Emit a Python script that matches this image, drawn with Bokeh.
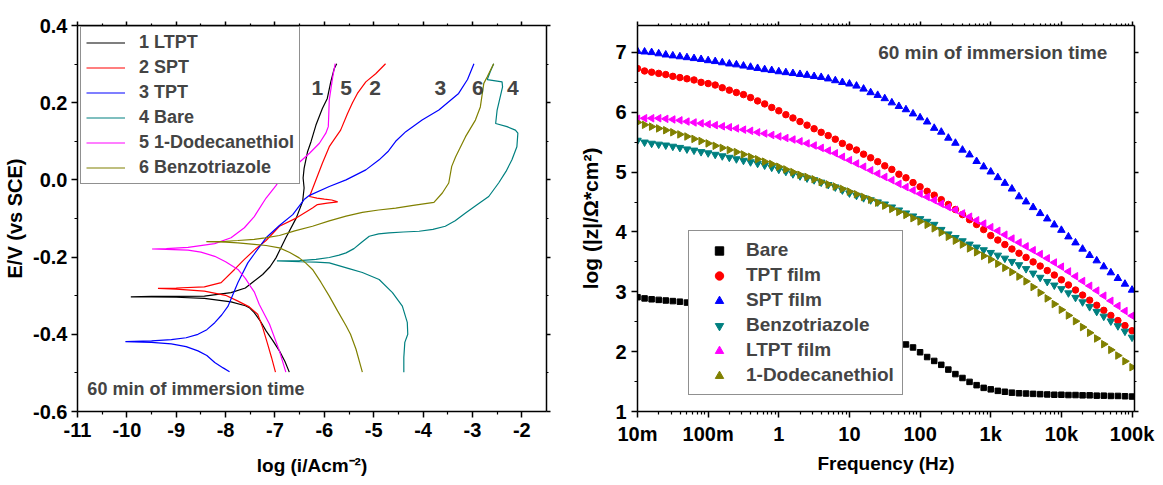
import numpy as np
from bokeh.plotting import figure
from bokeh.layouts import row
from bokeh.models import (Range1d, FixedTicker, LinearAxis, LogAxis, Legend, LegendItem,
                          Label, CustomJSTickFormatter)
from bokeh.embed import file_html
from bokeh.resources import INLINE

FONT = "Liberation Sans"

# ---------------- Left panel: polarization curves (log i, E) ----------------
ltpt_x = [-6.71, -6.80, -6.91, -7.05, -7.18, -7.30, -7.42, -7.52, -7.60, -7.89, -8.43, -9.0, -9.5, -9.92,
          -9.5, -9.0, -8.43, -7.89, -7.6, -7.42, -7.25, -7.1, -6.98, -6.78, -6.57, -6.44, -6.41, -6.43,
          -6.41, -6.34, -6.27, -6.17, -6.04, -5.94, -5.87, -5.80, -5.75]
ltpt_y = [-0.498, -0.47, -0.443, -0.415, -0.391, -0.365, -0.344, -0.331, -0.326, -0.316, -0.307, -0.304, -0.303, -0.303,
          -0.302, -0.302, -0.301, -0.292, -0.28, -0.262, -0.245, -0.225, -0.202, -0.150, -0.099, -0.056, -0.021, 0.005,
          0.03, 0.073, 0.099, 0.142, 0.185, 0.211, 0.254, 0.288, 0.301]

spt_x = [-6.99, -7.07, -7.15, -7.25, -7.35, -7.52, -7.75, -8.0, -8.43, -9.0, -9.37,
         -9.0, -8.43, -8.09, -7.82, -7.62, -7.42, -7.18, -6.91, -6.57, -6.24, -6.14, -5.94, -5.73,
         -5.85, -6.0, -6.15, -6.30, -6.2, -6.04, -5.90, -5.80, -5.67, -5.53, -5.43, -5.33, -5.16, -4.96, -4.76]
spt_y = [-0.498, -0.46, -0.425, -0.382, -0.348, -0.329, -0.314, -0.299, -0.288, -0.283, -0.281,
         -0.280, -0.277, -0.266, -0.232, -0.206, -0.182, -0.157, -0.12, -0.099, -0.073, -0.064, -0.060, -0.057,
         -0.052, -0.050, -0.047, -0.043, -0.01, 0.043, 0.086, 0.105, 0.129, 0.172, 0.2, 0.224, 0.254, 0.275, 0.301]

tpt_x = [-7.92, -8.05, -8.22, -8.38, -8.56, -8.8, -9.1, -9.5, -10.03,
         -9.5, -9.1, -8.8, -8.56, -8.38, -8.22, -8.08, -7.95, -7.85, -7.75, -7.55, -7.42, -7.18, -6.91,
         -6.64, -6.41, -6.30, -5.90, -5.56, -5.16, -4.89, -4.70, -4.555, -4.35, -4.02, -3.68, -3.28, -3.10, -2.97]
tpt_y = [-0.497, -0.487, -0.473, -0.455, -0.443, -0.432, -0.425, -0.421, -0.419,
         -0.417, -0.414, -0.409, -0.400, -0.388, -0.370, -0.35, -0.327, -0.296, -0.266, -0.215, -0.192, -0.150, -0.118,
         -0.09, -0.051, -0.040, -0.017, 0.0, 0.026, 0.052, 0.075, 0.100, 0.125, 0.155, 0.181, 0.224, 0.26, 0.301]

bare_x = [-4.39, -4.39, -4.37, -4.31, -4.32, -4.42, -4.62, -4.89, -5.23, -5.5, -5.90, -6.17, -6.5, -6.96,
          -6.5, -6.17, -5.9, -5.7, -5.56, -5.4, -5.25, -5.09, -4.9, -4.69, -4.4, -4.08, -3.8, -3.55, -3.35,
          -3.14, -2.9, -2.67, -2.47, -2.32, -2.2, -2.10, -2.08, -2.13, -2.30, -2.53, -2.50, -2.39, -2.40,
          -2.70, -2.64, -2.57]
bare_y = [-0.498, -0.46, -0.421, -0.40, -0.369, -0.327, -0.292, -0.258, -0.240, -0.230, -0.215, -0.213, -0.212, -0.210,
          -0.209, -0.206, -0.201, -0.195, -0.189, -0.178, -0.162, -0.146, -0.140, -0.137, -0.135, -0.133, -0.128, -0.120,
          -0.106, -0.086, -0.064, -0.043, -0.008, 0.022, 0.052, 0.086, 0.121, 0.129, 0.138, 0.146, 0.181, 0.241, 0.254,
          0.260, 0.280, 0.301]

dodec_x = [-6.78, -6.91, -7.11, -7.32, -7.42, -7.5, -7.6, -7.75, -8.0, -8.22, -8.5, -8.76, -9.2, -9.49,
           -9.2, -8.76, -8.22, -7.89, -7.62, -7.42, -7.18, -6.98, -6.84, -6.51, -6.3, -6.1, -5.97, -5.92,
           -5.91, -5.90, -5.83, -5.78]
dodec_y = [-0.498, -0.443, -0.374, -0.322, -0.290, -0.275, -0.255, -0.232, -0.212, -0.198, -0.187, -0.182, -0.180, -0.179,
           -0.178, -0.175, -0.165, -0.150, -0.124, -0.095, -0.047, -0.015, 0.013, 0.045, 0.069, 0.095, 0.121, 0.138,
           0.17, 0.207, 0.267, 0.301]

btz_x = [-5.23, -5.36, -5.47, -5.56, -5.73, -5.90, -6.07, -6.24, -6.38, -6.51, -6.7, -6.91, -7.18, -7.42, -7.75, -8.0, -8.39,
         -8.0, -7.75, -7.42, -7.2, -6.91, -6.6, -6.24, -5.9, -5.56, -5.23, -4.9, -4.555, -4.2, -3.78, -3.61,
         -3.48, -3.42, -3.34, -3.14, -2.94, -2.84, -2.80, -2.77, -2.70, -2.57]
btz_y = [-0.498, -0.438, -0.40, -0.378, -0.34, -0.301, -0.265, -0.232, -0.215, -0.202, -0.188, -0.176, -0.170, -0.167, -0.163, -0.161, -0.160,
         -0.159, -0.157, -0.154, -0.150, -0.144, -0.132, -0.120, -0.106, -0.094, -0.084, -0.078, -0.073, -0.066, -0.058, -0.034,
         -0.008, 0.035, 0.060, 0.112, 0.155, 0.189, 0.224, 0.250, 0.267, 0.301]

curve_labels = ["1 LTPT", "2 SPT", "3 TPT", "4 Bare", "5 1-Dodecanethiol", "6 Benzotriazole"]
curve_colors = ["black", "#FF0000", "#0000FF", "#008080", "#FF00FF", "#808000"]

num_text = ["1", "5", "2", "3", "6", "4"]
num_x = [-6.14, -5.56, -4.97, -3.65, -2.89, -2.18]
num_y = 0.237

# ---------------- Right panel: Bode |Z| ----------------
log_freq = [-2.0, -1.9, -1.8, -1.7, -1.6, -1.5, -1.4, -1.3, -1.2, -1.1,
            -1.0, -0.9, -0.8, -0.7, -0.6, -0.5, -0.4, -0.3, -0.2, -0.1,
            0.0, 0.1, 0.2, 0.3, 0.4, 0.5, 0.6, 0.7, 0.8, 0.9,
            1.0, 1.1, 1.2, 1.3, 1.4, 1.5, 1.6, 1.7, 1.8, 1.9,
            2.0, 2.1, 2.2, 2.3, 2.4, 2.5, 2.6, 2.7, 2.8, 2.9,
            3.0, 3.1, 3.2, 3.3, 3.4, 3.5, 3.6, 3.7, 3.8, 3.9,
            4.0, 4.1, 4.2, 4.3, 4.4, 4.5, 4.6, 4.7, 4.8, 4.9, 5.0]

z_bare = [2.91, 2.89, 2.875, 2.865, 2.855, 2.845, 2.835, 2.82, 2.81, 2.795,
          2.78, 2.765, 2.75, 2.735, 2.72, 2.70, 2.685, 2.665, 2.645, 2.625,
          2.60, 2.58, 2.56, 2.54, 2.52, 2.495, 2.47, 2.445, 2.415, 2.39,
          2.36, 2.33, 2.30, 2.27, 2.24, 2.21, 2.18, 2.15, 2.12, 2.07,
          1.99, 1.91, 1.845, 1.78, 1.70, 1.625, 1.56, 1.495, 1.44, 1.395,
          1.37, 1.345, 1.33, 1.315, 1.305, 1.30, 1.295, 1.29, 1.285, 1.28,
          1.28, 1.275, 1.275, 1.27, 1.27, 1.265, 1.265, 1.26, 1.26, 1.255, 1.25]

z_tpt = [6.73, 6.69, 6.67, 6.65, 6.63, 6.60, 6.58, 6.56, 6.54, 6.50,
         6.48, 6.455, 6.41, 6.37, 6.33, 6.295, 6.245, 6.19, 6.14, 6.08,
         6.025, 5.96, 5.905, 5.845, 5.785, 5.725, 5.665, 5.61, 5.55, 5.48,
         5.42, 5.37, 5.30, 5.24, 5.175, 5.105, 5.045, 4.965, 4.905, 4.825,
         4.755, 4.68, 4.615, 4.54, 4.46, 4.375, 4.29, 4.205, 4.125, 4.04,
         3.94, 3.865, 3.79, 3.715, 3.645, 3.575, 3.50, 3.43, 3.355, 3.28,
         3.20, 3.115, 3.03, 2.945, 2.86, 2.775, 2.69, 2.605, 2.52, 2.435, 2.35]

z_spt = [7.02, 7.01, 7.00, 6.98, 6.96, 6.945, 6.93, 6.915, 6.90, 6.885,
         6.865, 6.85, 6.83, 6.81, 6.795, 6.775, 6.755, 6.735, 6.715, 6.70,
         6.68, 6.665, 6.65, 6.635, 6.62, 6.60, 6.585, 6.56, 6.53, 6.50,
         6.475, 6.44, 6.39, 6.33, 6.285, 6.23, 6.16, 6.10, 6.045, 5.975,
         5.91, 5.84, 5.735, 5.67, 5.57, 5.485, 5.37, 5.29, 5.18, 5.09,
         5.005, 4.91, 4.815, 4.72, 4.59, 4.505, 4.41, 4.31, 4.22, 4.12,
         4.03, 3.92, 3.82, 3.715, 3.61, 3.52, 3.42, 3.32, 3.225, 3.13, 3.03]

z_btz = [5.53, 5.50, 5.48, 5.465, 5.45, 5.43, 5.41, 5.385, 5.365, 5.34,
         5.32, 5.295, 5.27, 5.245, 5.22, 5.195, 5.17, 5.145, 5.115, 5.08,
         5.045, 5.01, 4.97, 4.935, 4.90, 4.87, 4.83, 4.79, 4.75, 4.70,
         4.65, 4.61, 4.57, 4.535, 4.50, 4.465, 4.415, 4.365, 4.315, 4.265,
         4.22, 4.175, 4.125, 4.04, 3.965, 3.905, 3.85, 3.795, 3.745, 3.70,
         3.655, 3.61, 3.56, 3.505, 3.45, 3.385, 3.31, 3.24, 3.17, 3.11,
         3.05, 2.98, 2.905, 2.83, 2.75, 2.67, 2.59, 2.51, 2.43, 2.34, 2.24]

z_ltpt = [5.89, 5.90, 5.90, 5.90, 5.89, 5.88, 5.865, 5.845, 5.83, 5.815,
          5.80, 5.785, 5.765, 5.75, 5.73, 5.71, 5.69, 5.665, 5.645, 5.62,
          5.595, 5.57, 5.545, 5.515, 5.48, 5.445, 5.405, 5.36, 5.315, 5.255,
          5.20, 5.145, 5.09, 5.03, 4.975, 4.92, 4.865, 4.805, 4.75, 4.695,
          4.64, 4.585, 4.53, 4.47, 4.415, 4.37, 4.31, 4.255, 4.195, 4.14,
          4.08, 4.02, 3.955, 3.89, 3.825, 3.76, 3.695, 3.63, 3.56, 3.49,
          3.42, 3.34, 3.26, 3.18, 3.10, 3.02, 2.935, 2.85, 2.765, 2.68, 2.60]

z_dodec = [5.83, 5.79, 5.76, 5.73, 5.70, 5.665, 5.63, 5.595, 5.555, 5.52,
           5.48, 5.44, 5.405, 5.37, 5.335, 5.295, 5.255, 5.215, 5.175, 5.135,
           5.09, 5.045, 5.00, 4.955, 4.92, 4.88, 4.835, 4.795, 4.76, 4.72,
           4.675, 4.63, 4.585, 4.54, 4.49, 4.44, 4.385, 4.335, 4.285, 4.23,
           4.175, 4.12, 4.06, 3.99, 3.92, 3.855, 3.79, 3.725, 3.66, 3.60,
           3.54, 3.47, 3.40, 3.33, 3.255, 3.175, 3.08, 2.985, 2.89, 2.795,
           2.70, 2.605, 2.51, 2.41, 2.315, 2.22, 2.125, 2.03, 1.935, 1.84, 1.74]

bode_labels = ["Bare", "TPT film", "SPT film", "Benzotriazole", "LTPT film", "1-Dodecanethiol"]
bode_colors = ["black", "#FF0000", "#0000FF", "#008080", "#FF00FF", "#808000"]

freq = [10 ** v for v in log_freq]


def style_axis(ax, show_labels=True, tick_len=6, minor_len=3):
    ax.axis_line_width = 1.5
    ax.axis_line_color = "black"
    ax.major_tick_line_width = 1.5
    ax.minor_tick_line_width = 1.2
    ax.major_tick_line_color = "black"
    ax.minor_tick_line_color = "black"
    ax.major_tick_out = tick_len
    ax.major_tick_in = 0
    ax.minor_tick_out = minor_len
    ax.minor_tick_in = 0
    ax.major_label_text_font = FONT
    ax.major_label_text_font_style = "bold"
    ax.major_label_text_font_size = "20px"
    ax.major_label_text_color = "black" if show_labels else None
    if not show_labels:
        ax.major_label_text_font_size = "1px"
        ax.major_label_standoff = 0
    ax.axis_label_text_font = FONT
    ax.axis_label_text_font_style = "bold"
    ax.axis_label_text_font_size = "19px"
    ax.axis_label_text_color = "black"


# ================= Left figure =================
p1 = figure(width=574, height=482, x_range=Range1d(-11, -1.5), y_range=Range1d(-0.6, 0.4),
            output_backend="svg", toolbar_location=None,
            min_border_left=77, min_border_right=28, min_border_top=25, min_border_bottom=69,
            x_axis_label="log (i/Acm\u207b\u00b2)", y_axis_label="E/V (vs SCE)")
p1.xgrid.visible = False
p1.ygrid.visible = False
p1.outline_line_color = None

xt1 = FixedTicker(ticks=[-11, -10, -9, -8, -7, -6, -5, -4, -3, -2],
                  minor_ticks=[-10.5, -9.5, -8.5, -7.5, -6.5, -5.5, -4.5, -3.5, -2.5])
yt1 = FixedTicker(ticks=[-0.6, -0.4, -0.2, 0.0, 0.2, 0.4],
                  minor_ticks=[-0.5, -0.3, -0.1, 0.1, 0.3])
p1.xaxis.ticker = xt1
p1.yaxis.ticker = yt1
p1.xaxis.formatter = CustomJSTickFormatter(code="return tick.toFixed(0);")
p1.yaxis.formatter = CustomJSTickFormatter(code="return (Math.abs(tick) < 1e-9 ? 0 : tick).toFixed(1);")
style_axis(p1.xaxis[0])
style_axis(p1.yaxis[0])
p1.xaxis.major_label_standoff = 5
p1.xaxis.axis_label_standoff = 15
p1.yaxis.major_label_standoff = 4
p1.yaxis.axis_label_standoff = 4
p1.yaxis.axis_label_text_font_size = "20px"

top1 = LinearAxis(ticker=xt1)
style_axis(top1, show_labels=False, tick_len=4, minor_len=2)
p1.add_layout(top1, "above")
right1 = LinearAxis(ticker=yt1)
style_axis(right1, show_labels=False, tick_len=4, minor_len=2)
p1.add_layout(right1, "right")

curves = [(ltpt_x, ltpt_y), (spt_x, spt_y), (tpt_x, tpt_y), (bare_x, bare_y), (dodec_x, dodec_y), (btz_x, btz_y)]
items1 = []
for (cx, cy), lab, col in zip(curves, curve_labels, curve_colors):
    r = p1.line(cx, cy, line_color=col, line_width=1.2)
    items1.append(LegendItem(label=lab, renderers=[r]))

leg1 = Legend(items=items1, location=(3, 227), margin=0, padding=5, spacing=4,
              glyph_width=39, glyph_height=21, label_height=21, label_standoff=14,
              label_text_font=FONT, label_text_font_style="bold", label_text_font_size="18px",
              border_line_color="#222222", border_line_width=1, background_fill_color="white",
              background_fill_alpha=1.0)
p1.add_layout(leg1)

for t, x in zip(num_text, num_x):
    p1.add_layout(Label(x=x, y=num_y, text=t, text_font=FONT, text_font_style="bold",
                        text_font_size="21px", text_align="center", text_baseline="middle"))

p1.add_layout(Label(x=-10.80, y=-0.541, text="60 min of immersion time", text_font=FONT,
                    text_font_style="bold", text_font_size="18px", text_align="left",
                    text_baseline="middle"))

# ================= Right figure =================
p2 = figure(width=585, height=482, x_axis_type="log", x_range=Range1d(0.01, 10 ** 5.035),
            y_range=Range1d(1, 7.45), output_backend="svg", toolbar_location=None,
            min_border_left=63, min_border_right=25, min_border_top=25, min_border_bottom=71,
            x_axis_label="Frequency (Hz)", y_axis_label="log (|z|/\u03a9*cm\u00b2)")
p2.xgrid.visible = False
p2.ygrid.visible = False
p2.outline_line_color = None

decades = [0.01, 0.1, 1, 10, 100, 1000, 10000, 100000]
minor_log = [m * d for d in decades[:-1] for m in range(2, 10)]
xt2 = FixedTicker(ticks=decades, minor_ticks=minor_log)
yt2 = FixedTicker(ticks=[1, 2, 3, 4, 5, 6, 7], minor_ticks=[1.5, 2.5, 3.5, 4.5, 5.5, 6.5])
p2.xaxis.ticker = xt2
p2.yaxis.ticker = yt2
p2.xaxis.formatter = CustomJSTickFormatter(code="""
const m = {"-2": "10m", "-1": "100m", "0": "1", "1": "10", "2": "100", "3": "1k", "4": "10k", "5": "100k"};
const k = String(Math.round(Math.log10(tick)));
return (k in m) ? m[k] : "";
""")
p2.yaxis.formatter = CustomJSTickFormatter(code="return tick.toFixed(0);")
style_axis(p2.xaxis[0])
style_axis(p2.yaxis[0])
p2.xaxis.major_label_standoff = 5
p2.xaxis.axis_label_standoff = 5
p2.yaxis.major_label_standoff = 5
p2.yaxis.axis_label_standoff = 10
p2.yaxis.axis_label_text_font_size = "21px"

top2 = LogAxis(ticker=xt2)
style_axis(top2, show_labels=False, tick_len=4, minor_len=2)
p2.add_layout(top2, "above")
right2 = LinearAxis(ticker=yt2)
style_axis(right2, show_labels=False, tick_len=4, minor_len=2)
p2.add_layout(right2, "right")

series = [z_bare, z_tpt, z_spt, z_btz, z_ltpt, z_dodec]
markers = [("square", 0.0, 5.5), ("circle", 0.0, 6.5), ("triangle", 0.0, 7.5),
           ("inverted_triangle", 0.0, 7.5), ("triangle", np.pi / 2, 7.5), ("triangle", -np.pi / 2, 7.5)]
items2 = []
for zs, lab, col, (mk, ang, sz) in zip(series, bode_labels, bode_colors, markers):
    r = p2.scatter(freq, zs, marker=mk, angle=ang, size=sz, fill_color=col, line_color=col)
    items2.append(LegendItem(label=lab, renderers=[r]))

leg2 = Legend(items=items2, location=(51, 16), margin=0, padding=8, spacing=3,
              glyph_width=44, glyph_height=21, label_height=21, label_standoff=5,
              label_text_font=FONT, label_text_font_style="bold", label_text_font_size="19px",
              border_line_color="#222222", border_line_width=1, background_fill_color="white",
              background_fill_alpha=1.0)
p2.add_layout(leg2)

p2.add_layout(Label(x=25.5, y=7.0, text="60 min of immersion time", text_font=FONT,
                    text_font_style="bold", text_font_size="19px", text_align="left",
                    text_baseline="middle"))

layout = row(p1, p2)
open("out.html", "w").write(file_html(layout, INLINE))
